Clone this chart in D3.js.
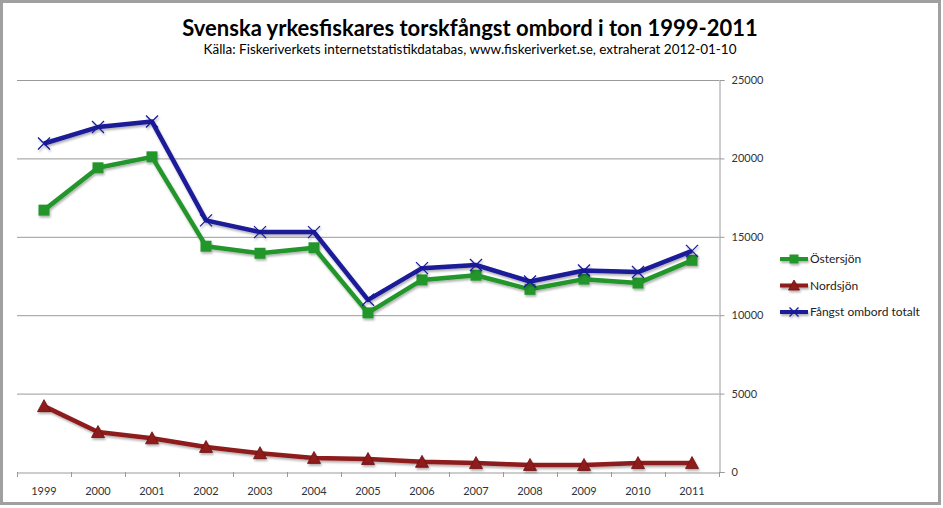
<!DOCTYPE html>
<html><head><meta charset="utf-8">
<script src="https://cdn.jsdelivr.net/npm/d3@7"></script>
<style>
html,body{margin:0;padding:0;background:#fff;}
svg{display:block;font-family:Lato,"Open Sans",sans-serif;}
</style></head>
<body>
<svg id="chart" width="943" height="508"></svg>
<script>
const years = ["1999","2000","2001","2002","2003","2004","2005","2006","2007","2008","2009","2010","2011"];
const ostersjon = [16700,19400,20100,14400,13950,14300,10150,12250,12550,11650,12300,12050,13500];
const nordsjon  = [4200,2550,2150,1600,1200,900,830,650,570,450,450,570,570];
const totalt    = [20950,22000,22350,16050,15300,15300,10980,13000,13200,12150,12850,12750,14100];
const yTicks = [0,5000,10000,15000,20000,25000];
const seriesNames = ["Östersjön","Nordsjön","Fångst ombord totalt"];

const svg = d3.select("#chart");
// outer frame
svg.append("rect").attr("x",1.5).attr("y",1.5).attr("width",938).attr("height",502)
  .attr("fill","#fff").attr("stroke","#a0a0a0").attr("stroke-width",3);

const defs = svg.append("defs");
const f = defs.append("filter").attr("id","sh").attr("x","-20%").attr("y","-20%").attr("width","140%").attr("height","160%");
f.append("feDropShadow").attr("dx",1).attr("dy",2).attr("stdDeviation",1.2).attr("flood-color","#000").attr("flood-opacity",0.3);

const x = d3.scaleBand().domain(years).range([17,719]);
const y = d3.scaleLinear().domain([0,25000]).range([472,80]);

// gridlines
svg.append("g").selectAll("line").data(yTicks.filter(d=>d>0)).join("line")
  .attr("x1",17).attr("x2",719).attr("y1",d=>y(d)+0.5).attr("y2",d=>y(d)+0.5)
  .attr("stroke","#9a9a9a").attr("stroke-width",1);

// right axis
const ya = svg.append("g").attr("transform","translate(719.5,0)")
  .call(d3.axisRight(y).tickValues(yTicks).tickSize(5).tickPadding(7).tickFormat(d3.format("d")));
ya.select(".domain").attr("stroke","#9a9a9a");
ya.selectAll(".tick line").attr("stroke","#9a9a9a");
ya.selectAll("text").attr("fill","#333").style("font-size","11px").style("font-family","Lato,'Open Sans',sans-serif");

// bottom axis
const xa = svg.append("g").attr("transform","translate(0,472.5)")
  .call(d3.axisBottom(x).tickSize(0).tickPadding(15));
xa.select(".domain").attr("stroke","#9a9a9a");
xa.selectAll("text").attr("fill","#333").style("font-size","11px").style("font-family","Lato,'Open Sans',sans-serif");
svg.append("g").selectAll("line").data(years.concat(["end"])).join("line")
  .attr("x1",(d,i)=>17+i*x.step()+0.5).attr("x2",(d,i)=>17+i*x.step()+0.5)
  .attr("y1",472).attr("y2",477).attr("stroke","#9a9a9a");

const colors = ["#21962a","#8e1a1a","#1a1a99"];
const data = [ostersjon,nordsjon,totalt];
const cx = d => x(d)+x.bandwidth()/2;
const line = d3.line().x((d,i)=>cx(years[i])).y(d=>y(d));

function marker(g, k, px, py, s){
  if(k===0){
    g.append("rect").attr("x",px-s).attr("y",py-s).attr("width",2*s).attr("height",2*s).attr("fill",colors[0]);
  } else if(k===1){
    g.append("path").attr("d",`M${px},${py-s-1}L${px+s+1},${py+s}L${px-s-1},${py+s}Z`).attr("fill",colors[1]).attr("stroke","#6d1010").attr("stroke-width",0.8);
  } else {
    g.append("path").attr("d",`M${px-s},${py-s}L${px+s},${py+s}M${px-s},${py+s}L${px+s},${py-s}`).attr("stroke",colors[2]).attr("stroke-width",1.3).attr("fill","none");
  }
}

const order = [1,0,2];
order.forEach(k=>{
  const g = svg.append("g").attr("filter","url(#sh)");
  g.append("path").datum(data[k]).attr("d",line).attr("fill","none")
    .attr("stroke",colors[k]).attr("stroke-width",4.5).attr("stroke-linejoin","round");
  data[k].forEach((v,i)=>marker(g,k,cx(years[i]),y(v),k===2?6:5.5));
});

// title
svg.append("text").attr("x",470).attr("y",36).attr("text-anchor","middle")
  .style("font-size","22px").style("font-weight","bold").style("font-family","Lato,'Open Sans',sans-serif").attr("fill","#000")
  .text("Svenska yrkesfiskares torskfångst ombord i ton 1999-2011");
svg.append("text").attr("x",470).attr("y",54).attr("text-anchor","middle")
  .style("font-size","13.5px").style("font-family","Lato,'Open Sans',sans-serif").attr("fill","#000")
  .text("Källa: Fiskeriverkets internetstatistikdatabas, www.fiskeriverket.se, extraherat 2012-01-10");

// legend
const lg = svg.append("g");
seriesNames.forEach((n,i)=>{
  const ly = 259 + i*26.5;
  const g = lg.append("g").attr("filter","url(#sh)");
  g.append("line").attr("x1",780).attr("x2",808).attr("y1",ly).attr("y2",ly).attr("stroke",colors[i]).attr("stroke-width",4);
  marker(g,i,794,ly,4.5);
  lg.append("text").attr("x",810).attr("y",ly+4).style("font-size","12px").attr("fill","#222")
    .style("font-family","Lato,'Open Sans',sans-serif").text(n);
});
</script>
</body></html>
